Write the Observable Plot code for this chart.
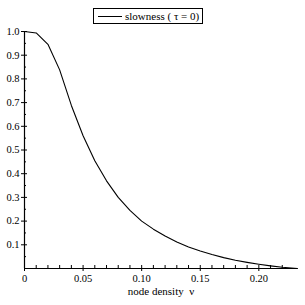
<!DOCTYPE html>
<html><head><meta charset="utf-8">
<script src="https://cdn.jsdelivr.net/npm/d3@7"></script>
<script src="https://cdn.jsdelivr.net/npm/@observablehq/plot@0.6"></script>
<style>
body{margin:0;background:#fff;}
#wrap{position:relative;width:305px;height:305px;font-family:"Liberation Serif","Times New Roman",Times,serif;}
#legend{position:absolute;left:93px;top:8px;width:108px;height:14px;border:1px solid #000;background:#fff;font-size:11px;line-height:14px;}
#legend .ln{position:absolute;left:4px;top:7px;width:24px;border-top:1px solid #000;}
#legend .tx{position:absolute;left:31px;top:0;white-space:nowrap;}
</style></head>
<body><div id="wrap"><div id="legend"><span class="ln"></span><span class="tx">slowness ( τ = 0)</span></div></div>
<script>
const density = [0, 0.01, 0.02, 0.03, 0.04, 0.05, 0.06, 0.07, 0.08, 0.09, 0.10, 0.11, 0.12, 0.13, 0.14, 0.15, 0.16, 0.17, 0.18, 0.19, 0.20, 0.21, 0.22, 0.233];
const slowness = [1.0, 0.994, 0.946, 0.838, 0.688, 0.56, 0.455, 0.37, 0.30, 0.245, 0.20, 0.166, 0.137, 0.112, 0.091, 0.074, 0.059, 0.046, 0.035, 0.026, 0.018, 0.011, 0.005, 0.0];
const xMajor = [0, 0.05, 0.10, 0.15, 0.20];
const xLabels = ["0", "0.05", "0.10", "0.15", "0.20"];
const xMinor = [0.01, 0.02, 0.03, 0.04, 0.06, 0.07, 0.08, 0.09, 0.11, 0.12, 0.13, 0.14, 0.16, 0.17, 0.18, 0.19, 0.21, 0.22];
const yMajor = [0.1, 0.2, 0.3, 0.4, 0.5, 0.6, 0.7, 0.8, 0.9, 1.0];
const yMinor = [0.05, 0.15, 0.25, 0.35, 0.45, 0.55, 0.65, 0.75, 0.85, 0.95];
const xTitle = "node density  ν";

const data = density.map((d, i) => ({x: d, y: slowness[i]}));
const font = "Liberation Serif, Times New Roman, serif";
const none = () => "";

const chart = Plot.plot({
  width: 305, height: 305,
  marginLeft: 24, marginRight: 8, marginTop: 31, marginBottom: 37,
  style: {fontFamily: font, fontSize: "10px", color: "#000", background: "transparent"},
  x: {domain: [0, 0.233]},
  y: {domain: [0, 1]},
  marks: [
    Plot.axisX(xMajor, {tickSize: 3, tickPadding: 3, tickFormat: (d, i) => xLabels[i], fontSize: 10.5, label: null}),
    Plot.axisX(xMajor, {tickSize: -3, tickFormat: none, label: null}),
    Plot.axisX(xMinor, {tickSize: -3, tickFormat: none, label: null}),
    Plot.axisY(yMajor, {tickSize: 3, tickPadding: 2, tickFormat: d3.format(".1f"), fontSize: 10.5, label: null}),
    Plot.axisY(yMajor, {tickSize: -3, tickFormat: none, label: null}),
    Plot.axisY(yMinor, {tickSize: -2, tickFormat: none, label: null}),
    Plot.ruleX([0], {stroke: "#000", strokeWidth: 1.2}),
    Plot.ruleY([0], {stroke: "#000", strokeWidth: 1.2}),
    Plot.line(data, {x: "x", y: "y", stroke: "#000", strokeWidth: 1.1}),
    Plot.text([xTitle], {frameAnchor: "bottom", dy: 26, fontSize: 11, fontFamily: font, text: d => d})
  ]
});
document.getElementById("wrap").prepend(chart);
chart.style.position = "absolute";
chart.style.left = "0";
chart.style.top = "0";
</script>
</body></html>
